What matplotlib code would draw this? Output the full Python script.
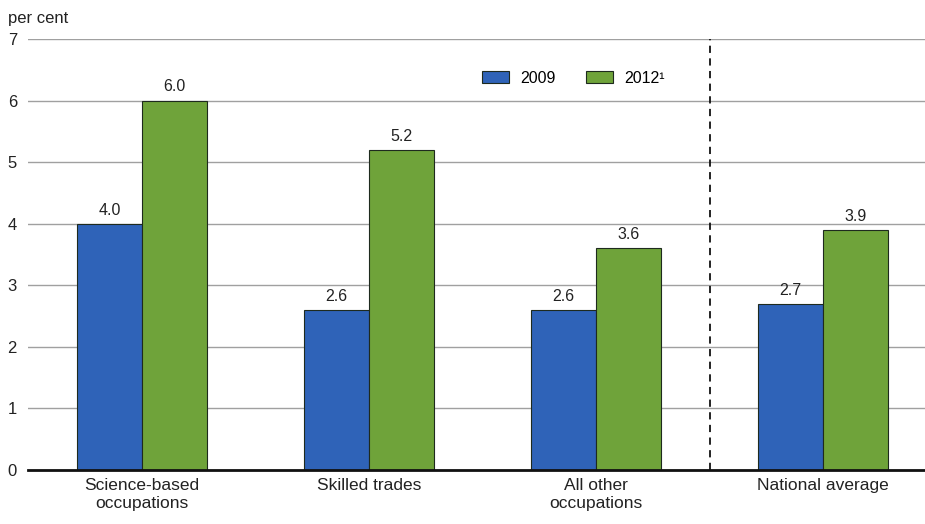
import matplotlib
matplotlib.use("Agg")
import matplotlib.pyplot as plt
from matplotlib.patches import Patch

categories = ["Science-based\noccupations", "Skilled trades", "All other\noccupations", "National average"]
series_names = ["2009", "2012\u00b9"]
values_2009 = [4.0, 2.6, 2.6, 2.7]
values_2012 = [6.0, 5.2, 3.6, 3.9]
yticks = [0, 1, 2, 3, 4, 5, 6, 7]

plt.rcParams['font.family'] = ['Liberation Sans Narrow', 'Liberation Sans', 'DejaVu Sans']

fig = plt.figure(figsize=(9.25, 5.24), dpi=100)
ax = fig.add_axes([0.0303, 0.103, 0.9697, 0.8226])

blue = "#2f63b8"
green = "#6fa33a"
edge = "#1e2a1e"
w = 0.286
x = list(range(len(categories)))

b1 = ax.bar([i - w / 2 for i in x], values_2009, width=w, color=blue, edgecolor=edge, linewidth=0.8, zorder=3)
b2 = ax.bar([i + w / 2 for i in x], values_2012, width=w, color=green, edgecolor=edge, linewidth=0.8, zorder=3)

for bars, vals in ((b1, values_2009), (b2, values_2012)):
    for r, v in zip(bars, vals):
        ax.text(r.get_x() + r.get_width() / 2, v + 0.1, f"{v:.1f}", ha="center", va="bottom",
                fontsize=11.5, color="#222222", zorder=4)

ax.set_xlim(-0.502, 3.449)
ax.set_ylim(0, 7)
ax.set_yticks(yticks)
ax.set_yticklabels([str(t) for t in yticks], fontsize=12, color="#222222")
ax.set_xticks(x)
ax.set_xticklabels(categories, fontsize=12.5, color="#222222", linespacing=1.25)
ax.tick_params(axis="x", length=0, pad=6)
ax.tick_params(axis="y", length=0, pad=8)
ax.yaxis.grid(True, color="#a0a0a0", linewidth=1.0, zorder=0)
ax.set_axisbelow(True)
for s in ("top", "right", "left"):
    ax.spines[s].set_visible(False)
ax.spines["bottom"].set_linewidth(2.0)
ax.spines["bottom"].set_color("#111111")
ax.spines["bottom"].set_zorder(5)

ax.axvline(2.5, color="#111111", linestyle=(0, (4, 3)), linewidth=1.3, zorder=4)

handles = [Patch(facecolor=blue, edgecolor=edge, linewidth=0.8),
           Patch(facecolor=green, edgecolor=edge, linewidth=0.8)]
ax.legend(handles, series_names, loc="upper left", bbox_to_anchor=(0.49, 0.96), ncol=2,
          frameon=False, fontsize=11.5, handlelength=1.7, handleheight=0.8, columnspacing=1.9,
          handletextpad=0.7)

fig.text(0.009, 0.965, "per cent", fontsize=12, color="#222222", ha="left", va="center")

fig.savefig("out.png", dpi=100, facecolor="white")
